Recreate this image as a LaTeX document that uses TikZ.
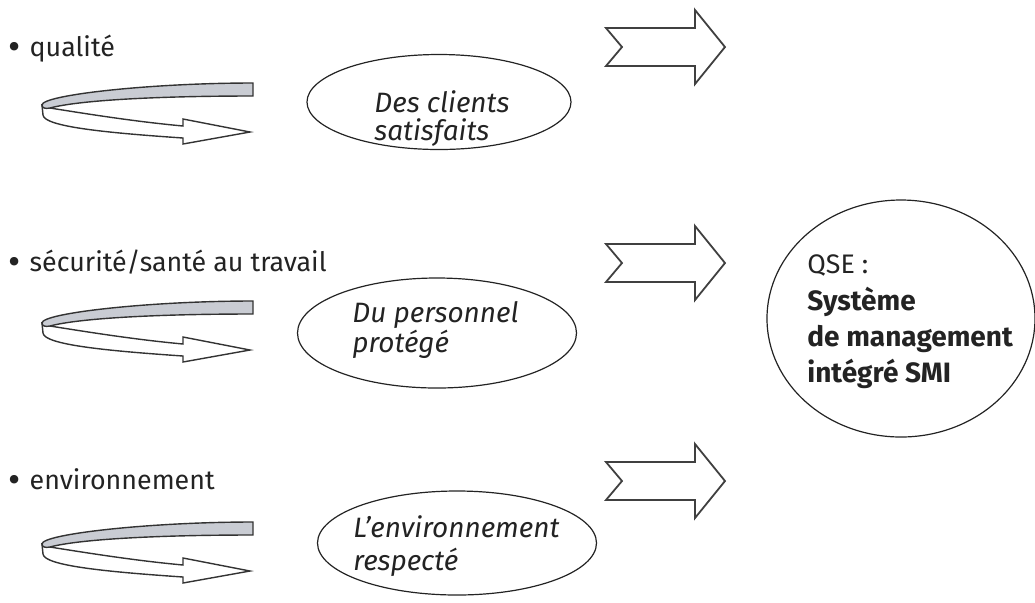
\documentclass[tikz,border=0pt]{standalone}
\usepackage{fontspec}
\setmainfont{Fira Sans}
\usepackage{tikz}
\usetikzlibrary{shapes.geometric}
\definecolor{ribbon}{RGB}{201,204,211}
\definecolor{ink}{RGB}{35,35,35}

\begin{document}
\begin{tikzpicture}[x=0.5pt, y=-0.5pt,
    lbl/.style={anchor=base west, inner sep=0pt, text=ink, font=\fontsize{13.4}{16}\selectfont},
    ital/.style={lbl, font=\fontsize{14}{17}\selectfont\itshape},
    bold/.style={lbl, font=\fontsize{14}{17}\selectfont\bfseries},
    oval/.style={draw=ink, line width=0.6pt, ellipse, inner sep=0pt},
    bigarrow/.style={draw=black!75, line width=0.9pt, fill=white, line join=miter},
    ribbonback/.style={draw=black!80, line width=0.7pt, fill=ribbon},
    ribbonfront/.style={draw=black!80, line width=0.7pt, fill=white}]
  \useasboundingbox (0,0) rectangle (1035,602);

  % les trois domaines
  \node[lbl] (qual) at (8,56) {\raisebox{-1.8pt}{\scalebox{1.4}{•}}\hspace{1pt} qualité};
  \node[lbl] (secu) at (8,271) {\raisebox{-1.8pt}{\scalebox{1.4}{•}}\hspace{1pt} sécurité/santé au travail};
  \node[lbl] (envi) at (8,489) {\raisebox{-1.8pt}{\scalebox{1.4}{•}}\hspace{1pt} environnement};

  % rubans tournants
  \begin{scope}[shift={(0,83)}]
    \draw[ribbonfront] (50,25) .. controls (100,33) and (140,39) .. (183,43) -- (183,36) -- (250,49)
      -- (183,61) -- (183,55) .. controls (110,50) and (44,44) .. (43,32) -- (42,22) -- cycle;
    \draw[ribbonback] (253,0) -- (253,13) .. controls (160,13) and (80,17) .. (50,25)
      .. controls (45,26) and (42,25) .. (42,22) .. controls (42,12) and (150,0) .. (253,0) -- cycle;
  \end{scope}
  \begin{scope}[shift={(0,301)}]
    \draw[ribbonfront] (50,25) .. controls (100,33) and (140,39) .. (183,43) -- (183,36) -- (250,49)
      -- (183,61) -- (183,55) .. controls (110,50) and (44,44) .. (43,32) -- (42,22) -- cycle;
    \draw[ribbonback] (253,0) -- (253,13) .. controls (160,13) and (80,17) .. (50,25)
      .. controls (45,26) and (42,25) .. (42,22) .. controls (42,12) and (150,0) .. (253,0) -- cycle;
  \end{scope}
  \begin{scope}[shift={(0,522)}]
    \draw[ribbonfront] (50,25) .. controls (100,33) and (140,39) .. (183,43) -- (183,36) -- (250,49)
      -- (183,61) -- (183,55) .. controls (110,50) and (44,44) .. (43,32) -- (42,22) -- cycle;
    \draw[ribbonback] (253,0) -- (253,13) .. controls (160,13) and (80,17) .. (50,25)
      .. controls (45,26) and (42,25) .. (42,22) .. controls (42,12) and (150,0) .. (253,0) -- cycle;
  \end{scope}

  % les resultats
  \node[oval, minimum width=132pt, minimum height=47.5pt] (clients) at (439,102) {};
  \node[oval, minimum width=139.5pt, minimum height=55pt] (personnel) at (437,333) {};
  \node[oval, minimum width=139.5pt, minimum height=52pt] (respect) at (457,543) {};
  \node[ital] (cl1) at (374,112) {Des clients};
  \node[ital] (cl2) at (374,140) {satisfaits};
  \node[ital] (pe1) at (352,322) {Du personnel};
  \node[ital] (pe2) at (352,352) {protégé};
  \node[ital] (en1) at (353,537) {L’environnement};
  \node[ital] (en2) at (353,570) {respecté};

  % grosses fleches
  \draw[bigarrow, shift={(0,47)}] (606,-19) -- (695,-19) -- (695,-37) -- (725,0) -- (695,37)
    -- (695,19) -- (606,19) -- (622,0) -- cycle;
  \draw[bigarrow, shift={(0,263)}] (606,-19) -- (695,-19) -- (695,-37) -- (725,0) -- (695,37)
    -- (695,19) -- (606,19) -- (622,0) -- cycle;
  \draw[bigarrow, shift={(0,481)}] (606,-19) -- (695,-19) -- (695,-37) -- (725,0) -- (695,37)
    -- (695,19) -- (606,19) -- (622,0) -- cycle;

  % le systeme integre
  \node[oval, minimum width=134pt, minimum height=118.5pt] (smi) at (901,318.5) {};
  \node[lbl] (qse) at (807,273) {QSE :};
  \node[bold] (sys1) at (807,310) {Système};
  \node[bold] (sys2) at (807,346) {de management};
  \node[bold] (sys3) at (807,382) {intégré SMI};
\end{tikzpicture}
\end{document}
